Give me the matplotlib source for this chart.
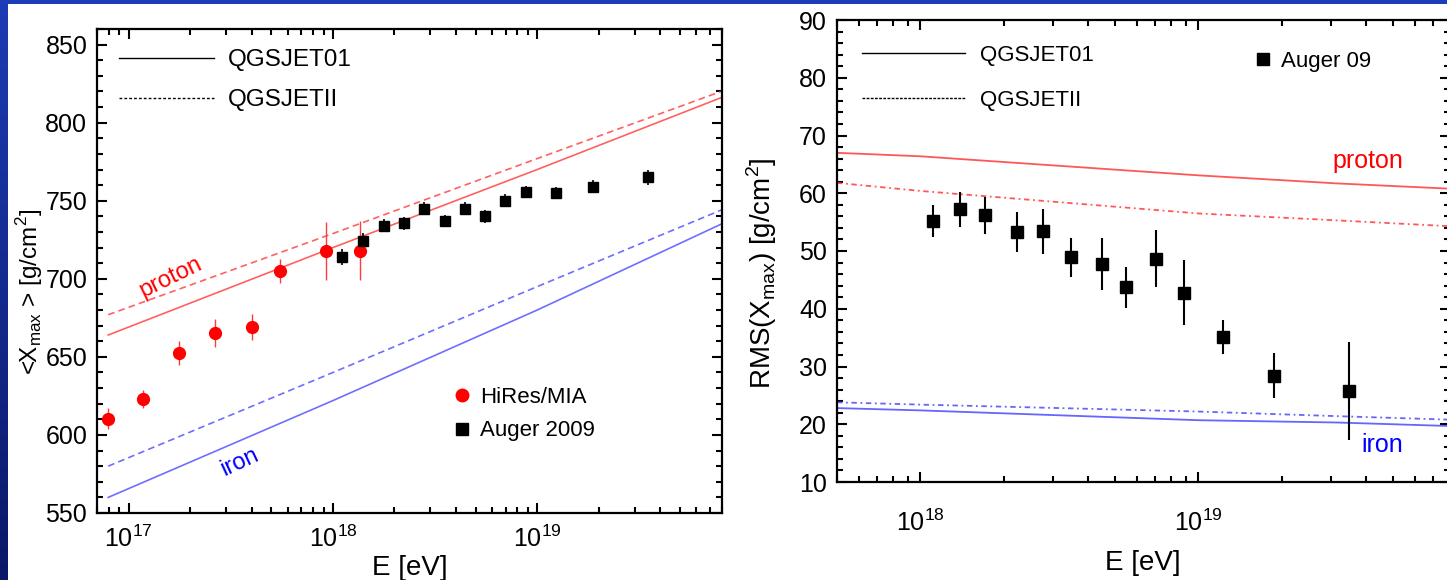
import numpy as np
import matplotlib
matplotlib.use('Agg')
import matplotlib.pyplot as plt
from matplotlib import font_manager as fm
from matplotlib.lines import Line2D
from matplotlib.colors import LinearSegmentedColormap
from matplotlib.ticker import LogLocator, MultipleLocator, FuncFormatter, NullFormatter

# ---------------- data ----------------
# Left panel: <Xmax> vs E
model_logE_left = [16.9, 18.0, 19.0, 19.9]
proton_qgs01_mean = [664, 720, 770, 816]
proton_qgsII_mean = [677, 729, 777, 820]
iron_qgs01_mean = [560, 622, 680, 735]
iron_qgsII_mean = [580, 640, 695, 744]

hires_E = [7.9e16, 1.18e17, 1.77e17, 2.65e17, 4.0e17, 5.5e17, 9.2e17, 1.35e18]
hires_xmax = [610.5, 623, 652.5, 665.5, 669, 705, 718, 718]
hires_err = [6.5, 6, 7.5, 9, 8.5, 7.5, 18.5, 19]

auger_E = [1.11e18, 1.41e18, 1.77e18, 2.22e18, 2.79e18, 3.53e18, 4.43e18,
           5.56e18, 6.98e18, 8.86e18, 1.24e19, 1.88e19, 3.47e19]
auger_xmax = [714, 724.5, 734, 735.5, 745, 737, 745, 740, 750, 755.5, 755, 759, 765]
auger_xmax_err = [5, 5, 4, 4, 4, 4, 4, 4, 4, 4, 4, 4, 5]

# Right panel: RMS(Xmax) vs E
model_logE_right = [17.7, 18.0, 19.0, 19.5, 19.9]
proton_qgs01_rms = [67.0, 66.4, 63.1, 61.7, 60.8]
proton_qgsII_rms = [61.8, 60.4, 56.5, 55.3, 54.3]
iron_qgs01_rms = [22.8, 22.4, 20.7, 20.3, 19.7]
iron_qgsII_rms = [23.8, 23.4, 22.2, 21.4, 20.8]

auger_rms_E = [1.11e18, 1.39e18, 1.71e18, 2.23e18, 2.77e18, 3.49e18, 4.49e18,
               5.48e18, 7.04e18, 8.87e18, 1.23e19, 1.87e19, 3.48e19]
auger_rms = [55.2, 57.2, 56.2, 53.3, 53.4, 48.9, 47.8, 43.7, 48.7, 42.8, 35.1, 28.4, 25.7]
auger_rms_err = [2.8, 3.1, 3.2, 3.5, 3.9, 3.4, 4.5, 3.6, 5.0, 5.6, 3.0, 3.9, 8.5]

model_labels = ['QGSJET01', 'QGSJETII']
left_data_labels = ['HiRes/MIA', 'Auger 2009']
right_data_label = 'Auger 09'

# ---------------- fonts ----------------
names = {f.name for f in fm.fontManager.ttflist}
NARROW = 'Liberation Sans Narrow' if 'Liberation Sans Narrow' in names else 'Liberation Sans'
REG = 'Liberation Sans'
plt.rcParams['font.family'] = [REG, 'DejaVu Sans']

RED = '#ff3a3a'
BLUE = '#4a4aff'

W, H = 1447, 580
fig = plt.figure(figsize=(W / 100, H / 100), dpi=100)
fig.patch.set_facecolor('white')

# background frame: blue top strip, dark blue gradient left strip
bg_left = fig.add_axes([0, 0, 7 / W, 1])
grad = np.linspace(0, 1, 256).reshape(-1, 1)
cmap = LinearSegmentedColormap.from_list('bg', ['#1c3cb4', '#0b1868'])
bg_left.imshow(grad, aspect='auto', cmap=cmap, extent=[0, 1, 0, 1], origin='upper')
bg_left.set_axis_off()
bg_top = fig.add_axes([0, 1 - 4 / H, 1, 4 / H])
bg_top.set_facecolor('#1c3cb8')
bg_top.set_xticks([]); bg_top.set_yticks([])
for s in bg_top.spines.values():
    s.set_visible(False)


def style_axes(ax, font, ymajor, yminor, xpad):
    ax.set_xscale('log')
    for s in ax.spines.values():
        s.set_linewidth(1.6)
    ax.xaxis.set_major_locator(LogLocator(base=10, numticks=10))
    ax.xaxis.set_minor_locator(LogLocator(base=10, subs=np.arange(2, 10), numticks=20))
    ax.xaxis.set_major_formatter(FuncFormatter(
        lambda v, p: r'$\mathdefault{10^{%d}}$' % int(round(np.log10(v)))))
    ax.xaxis.set_minor_formatter(NullFormatter())
    ax.yaxis.set_major_locator(MultipleLocator(ymajor))
    ax.yaxis.set_minor_locator(MultipleLocator(yminor))
    ax.tick_params(which='both', direction='in', top=True, right=True,
                   labelsize=18, labelfontfamily=font, width=1.5)
    ax.tick_params(which='major', length=7)
    ax.tick_params(which='minor', length=4)
    ax.tick_params(axis='y', pad=7)
    ax.tick_params(axis='x', pad=xpad)


# ---------------- left panel ----------------
axL = fig.add_axes([97 / W, 1 - 513 / H, (721.7 - 97) / W, (513 - 29) / H])
style_axes(axL, NARROW, 50, 10, 9)
axL.set_xlim(7e16, 8e19)
axL.set_ylim(550, 860)

eL = np.power(10.0, model_logE_left)
axL.plot(eL, proton_qgs01_mean, color=RED, lw=1.2, alpha=0.8)
axL.plot(eL, proton_qgsII_mean, color=RED, lw=1.2, alpha=0.8, ls=(0, (4, 2.5)))
axL.plot(eL, iron_qgs01_mean, color=BLUE, lw=1.2, alpha=0.8)
axL.plot(eL, iron_qgsII_mean, color=BLUE, lw=1.2, alpha=0.8, ls=(0, (4, 2.5)))

axL.errorbar(hires_E, hires_xmax, yerr=hires_err, fmt='o', color='red', ms=8.5,
             elinewidth=1.0, ecolor=RED, capsize=0)
axL.errorbar(auger_E, auger_xmax, yerr=auger_xmax_err, fmt='s', color='black', ms=6.5,
             elinewidth=1.2, capsize=0)

axL.set_xlabel('E [eV]', fontsize=20, family=NARROW, labelpad=2)
axL.set_ylabel(r'<X$_{\mathdefault{max}}$ > [g/cm$^{\mathdefault{2}}$]', fontsize=17.5,
               family=NARROW)
axL.yaxis.set_label_coords(-0.083, 0.457)

h_models_L = [Line2D([], [], color='black', lw=1.0),
              Line2D([], [], color='black', lw=1.0, ls=(0, (2, 1.5)))]
legL1 = axL.legend(h_models_L, model_labels, loc='upper left', bbox_to_anchor=(0.035, 0.958),
                   frameon=False, handlelength=3.9, handletextpad=0.6, labelspacing=0.74,
                   borderpad=0, borderaxespad=0, prop={'family': NARROW, 'size': 17.5})
axL.add_artist(legL1)
h_data_L = [Line2D([], [], marker='o', color='red', ls='none', ms=9),
            Line2D([], [], marker='s', color='black', ls='none', ms=8)]
axL.legend(h_data_L, left_data_labels, loc='upper left', bbox_to_anchor=(0.570, 0.26),
           frameon=False, handlelength=0.8, handletextpad=0.4, labelspacing=0.55,
           borderpad=0, borderaxespad=0, prop={'family': NARROW, 'size': 16})

axL.text(1.6e17, 701, 'proton', color='red', fontsize=17, family=NARROW,
         rotation=26, ha='center', va='center')
axL.text(3.5e17, 582.5, 'iron', color='blue', fontsize=17, family=NARROW,
         rotation=25, ha='center', va='center')

# ---------------- right panel ----------------
axR = fig.add_axes([836.7 / W, 1 - 482 / H, (1449.5 - 836.7) / W, (482 - 20) / H])
style_axes(axR, REG, 10, 2, 20)
axR.set_xlim(5e17, 8e19)
axR.set_ylim(10, 90)

eR = np.power(10.0, model_logE_right)
axR.plot(eR, proton_qgs01_rms, color=RED, lw=1.3, alpha=0.85)
axR.plot(eR, proton_qgsII_rms, color=RED, lw=1.3, alpha=0.85, ls=(0, (3, 2, 1, 2)))
axR.plot(eR, iron_qgs01_rms, color=BLUE, lw=1.3, alpha=0.85)
axR.plot(eR, iron_qgsII_rms, color=BLUE, lw=1.3, alpha=0.85, ls=(0, (3, 2, 1, 2)))

axR.errorbar(auger_rms_E, auger_rms, yerr=auger_rms_err, fmt='s', color='black', ms=9,
             elinewidth=1.5, capsize=0)

axR.set_xlabel('E [eV]', fontsize=20, labelpad=10)
axR.set_ylabel(r'RMS(X$_{\mathdefault{max}}$) [g/cm$^{\mathdefault{2}}$]', fontsize=20)
axR.yaxis.set_label_coords(-0.094, 0.452)

h_models_R = [Line2D([], [], color='black', lw=1.0),
              Line2D([], [], color='black', lw=1.0, ls=(0, (2, 1)))]
legR1 = axR.legend(h_models_R, model_labels, loc='upper left', bbox_to_anchor=(0.042, 0.946),
                   frameon=False, handlelength=4.6, handletextpad=0.7, labelspacing=1.07,
                   borderpad=0, borderaxespad=0, prop={'size': 16})
axR.add_artist(legR1)
axR.legend([Line2D([], [], marker='s', color='black', ls='none', ms=9)], [right_data_label],
           loc='upper left', bbox_to_anchor=(0.681, 0.933), frameon=False, handlelength=0.8,
           handletextpad=0.4, borderpad=0, borderaxespad=0, prop={'size': 16})

axR.text(4.08e19, 65.6, 'proton', color='red', fontsize=18, ha='center', va='center')
axR.text(4.6e19, 16.4, 'iron', color='blue', fontsize=18, ha='center', va='center')

fig.savefig('out.png', dpi=100, facecolor=fig.get_facecolor())
